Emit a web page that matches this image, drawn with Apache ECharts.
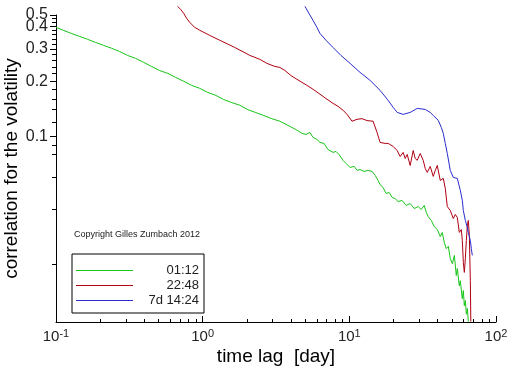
<!DOCTYPE html>
<html>
<head>
<meta charset="utf-8">
<script src="https://cdn.jsdelivr.net/npm/echarts@6/dist/echarts.min.js"></script>
<style>html,body{margin:0;padding:0;background:#fff}#main{width:512px;height:366px}</style>
</head>
<body>
<div id="main"></div>
<script>
var seriesNames = ['01:12', '22:48', '7d 14:24'];

// time lag [day] / correlation
var greenLag = [0.1, 0.112, 0.127, 0.144, 0.164, 0.186, 0.211, 0.239, 0.271, 0.307, 0.348, 0.395, 0.448, 0.508, 0.577, 0.654, 0.742, 0.841, 0.954, 1.08, 1.23, 1.39, 1.58, 1.79, 2.03, 2.30, 2.61, 2.96, 3.36, 3.81, 4.32, 4.75, 5.06, 5.39, 5.65, 6.01, 6.31, 6.72, 7.15, 7.74, 8.11, 8.50, 9.06, 9.50, 10.1, 10.8, 11.3, 11.8, 12.6, 13.4, 14.3, 15.0, 15.7, 16.2, 17.0, 17.8, 18.7, 19.6, 20.5, 21.5, 22.9, 24.4, 26.0, 27.7, 29.5, 30.9, 32.4, 33.5, 34.5, 36.2, 37.9, 39.8, 41.7, 43.0, 44.4, 45.8, 47.3, 48.8, 50.4, 52.0, 53.6, 54.5, 56.2, 57.1, 58.9, 59.9, 60.8, 61.8, 62.8, 63.8, 64.8];
var greenCorr = [0.394, 0.380, 0.365, 0.352, 0.339, 0.326, 0.314, 0.303, 0.291, 0.277, 0.267, 0.254, 0.241, 0.229, 0.221, 0.210, 0.200, 0.190, 0.183, 0.174, 0.1675, 0.159, 0.153, 0.148, 0.140, 0.135, 0.130, 0.125, 0.121, 0.115, 0.109, 0.104, 0.1025, 0.105, 0.0988, 0.0963, 0.0927, 0.0916, 0.0849, 0.0818, 0.0828, 0.0797, 0.0740, 0.0712, 0.0677, 0.0686, 0.0652, 0.0660, 0.0644, 0.0652, 0.0644, 0.0612, 0.0575, 0.0546, 0.0526, 0.0488, 0.0494, 0.0464, 0.0458, 0.0441, 0.0447, 0.0420, 0.0430, 0.0404, 0.0414, 0.0399, 0.0420, 0.0384, 0.0365, 0.0348, 0.0322, 0.0310, 0.0284, 0.0299, 0.0264, 0.0244, 0.0251, 0.0215, 0.0202, 0.0224, 0.0174, 0.0190, 0.0153, 0.0163, 0.0130, 0.0144, 0.0119, 0.0127, 0.0107, 0.0115, 0.00975];

var redLag = [0.675, 0.707, 0.742, 0.777, 0.815, 0.882, 0.954, 1.117, 1.307, 1.655, 2.095, 2.453, 2.738, 3.105, 3.360, 3.636, 3.996, 4.391, 5.139, 5.648, 6.305, 6.928, 7.737, 8.372, 9.057, 9.645, 10.43, 11.29, 12.21, 13.21, 14.52, 15.46, 16.21, 17.54, 18.39, 19.89, 21.18, 22.21, 23.28, 24.03, 24.80, 26.00, 27.25, 28.13, 29.03, 30.43, 31.90, 32.92, 33.97, 35.61, 37.33, 38.53, 39.77, 41.69, 43.71, 45.11, 46.56, 48.79, 51.15, 52.78, 54.47, 56.22, 58.01, 58.94, 59.88, 60.83, 61.79, 62.77, 63.76, 64.76, 65.79, 66.83, 67.35];
var redCorr = [0.513, 0.494, 0.470, 0.4415, 0.420, 0.394, 0.380, 0.356, 0.335, 0.306, 0.277, 0.2635, 0.2506, 0.241, 0.238, 0.229, 0.215, 0.205, 0.190, 0.181, 0.170, 0.161, 0.1515, 0.146, 0.139, 0.132, 0.121, 0.124, 0.125, 0.122, 0.121, 0.105, 0.0927, 0.0916, 0.0916, 0.0882, 0.0838, 0.0777, 0.0818, 0.0758, 0.0797, 0.0694, 0.0838, 0.0758, 0.0740, 0.0807, 0.0740, 0.0669, 0.0636, 0.0686, 0.0605, 0.0652, 0.0694, 0.0575, 0.0590, 0.0520, 0.0414, 0.0394, 0.0356, 0.0375, 0.0361, 0.0299, 0.0310, 0.0270, 0.0205, 0.0181, 0.0215, 0.0270, 0.0326, 0.0348, 0.0288, 0.0163, 0.00975];

var blueLag = [4.98, 5.30, 5.65, 6.01, 6.31, 6.93, 7.74, 8.76, 10.11, 11.83, 13.85, 16.21, 18.39, 19.89, 21.18, 23.28, 26.00, 29.03, 32.92, 35.61, 37.33, 40.40, 42.36, 43.71, 45.11, 46.56, 48.79, 51.15, 54.47, 57.11, 58.94, 59.88, 61.79, 63.76, 64.76, 66.83, 67.88, 68.96];
var blueCorr = [0.513, 0.470, 0.4305, 0.394, 0.365, 0.335, 0.306, 0.277, 0.2506, 0.2237, 0.2023, 0.1784, 0.1573, 0.1441, 0.1352, 0.1319, 0.1352, 0.1422, 0.1404, 0.1352, 0.1302, 0.1223, 0.1120, 0.1038, 0.0916, 0.0807, 0.0652, 0.0597, 0.0590, 0.0507, 0.0447, 0.0394, 0.0348, 0.0318, 0.0299, 0.0270, 0.0244, 0.0224];

var xMinorTicks = [0.2, 0.3, 0.4, 0.5, 0.6, 0.7, 0.8, 0.9, 2, 3, 4, 5, 6, 7, 8, 9, 20, 30, 40, 50, 60, 70, 80, 90];
var yTopLabel = [0.46];
var yLabelTicks = [0.4, 0.3, 0.2, 0.1];
var yMinorTicks = [0.44, 0.42, 0.38, 0.36, 0.34, 0.32, 0.28, 0.26, 0.24, 0.22, 0.18, 0.16, 0.14, 0.12, 0.09, 0.08, 0.06, 0.04, 0.02];
var yMin = 0.0097, yMax = 0.4601;

function pairs(xs, ys) {
	var out = [];
	for (var i = 0; i < xs.length; i++) out.push([xs[i], ys[i]]);
	return out;
}

var font = 'Liberation Sans, Arial, sans-serif';
var myChart = echarts.init(document.getElementById('main'));

var yLabelStyle = {
	margin: 8, hideOverlap: false,
	fontSize: 16, fontFamily: font, color: '#222',
	formatter: function (v) { return (Math.round(v * 10) / 10).toFixed(1); }
};

var option = {
	animation: false,
	backgroundColor: '#fff',
	grid: { left: 56, right: 16, top: 15, bottom: 44, containLabel: false, outerBoundsMode: 'none' },
	legend: {
		orient: 'vertical',
		left: 72, top: 254,
		padding: [10, 5, 6, 4],
		itemGap: 2,
		itemWidth: 57, itemHeight: 1,
		icon: 'rect',
		borderColor: '#000', borderWidth: 1,
		data: seriesNames,
		formatter: function (name) { return '{r|' + name + '}'; },
		textStyle: {
			rich: { r: { width: 61, align: 'right', fontSize: 13, lineHeight: 14, fontFamily: font, color: '#222' } }
		}
	},
	graphic: [{
		type: 'text', left: 74, top: 230,
		style: { text: 'Copyright Gilles Zumbach 2012', fontSize: 9, fontFamily: font, fill: '#222' }
	}],
	xAxis: [{
		type: 'log', logBase: 10, min: 0.1, max: 100,
		name: 'time lag  [day]', nameLocation: 'middle', nameGap: 25, nameMoveOverlap: false,
		nameTextStyle: { fontSize: 19, fontFamily: font, color: '#000' },
		axisLine: { lineStyle: { color: '#000', width: 1 } },
		axisTick: { inside: true, length: 6, lineStyle: { color: '#000' } },
		axisLabel: {
			margin: 6, color: '#222', fontFamily: font, hideOverlap: false,
			formatter: function (v) {
				return '{b|10}{s|' + Math.round(Math.log(v) / Math.LN10) + '}';
			},
			rich: {
				b: { fontSize: 15, fontFamily: font, color: '#222', lineHeight: 18 },
				s: { fontSize: 11, fontFamily: font, color: '#222', verticalAlign: 'top', lineHeight: 18 }
			}
		},
		splitLine: { show: false }
	}, {
		type: 'log', logBase: 10, min: 0.1, max: 100, position: 'bottom',
		axisLine: { show: false },
		axisTick: { inside: true, length: 3, customValues: xMinorTicks, lineStyle: { color: '#000' } },
		axisLabel: { show: false },
		splitLine: { show: false }
	}],
	yAxis: [{
		type: 'log', logBase: 10, min: yMin, max: yMax,
		name: 'correlation for the volatility', nameLocation: 'middle', nameGap: 35, nameMoveOverlap: false,
		nameTextStyle: { fontSize: 19, fontFamily: font, color: '#000' },
		axisLine: { show: true, lineStyle: { color: '#000', width: 1 } },
		axisTick: { length: 6, customValues: yTopLabel.concat(yLabelTicks), lineStyle: { color: '#000' } },
		axisLabel: echarts.util.extend({ customValues: yLabelTicks }, yLabelStyle),
		splitLine: { show: false }
	}, {
		type: 'log', logBase: 10, min: yMin, max: yMax, position: 'left',
		axisLine: { show: false },
		axisTick: { length: 4, customValues: yMinorTicks, lineStyle: { color: '#000' } },
		axisLabel: { show: false },
		splitLine: { show: false }
	}, {
		type: 'log', logBase: 10, min: yMin, max: yMax, position: 'left',
		axisLine: { show: false },
		axisTick: { show: false },
		axisLabel: echarts.util.extend({ customValues: yTopLabel }, yLabelStyle),
		splitLine: { show: false }
	}],
	series: [{
		name: seriesNames[0], type: 'line', symbol: 'none', clip: false,
		color: '#18c418', lineStyle: { width: 1 },
		data: pairs(greenLag, greenCorr)
	}, {
		name: seriesNames[1], type: 'line', symbol: 'none', clip: false,
		color: '#b00012', lineStyle: { width: 1 },
		data: pairs(redLag, redCorr)
	}, {
		name: seriesNames[2], type: 'line', symbol: 'none', clip: false,
		color: '#2b2bd0', lineStyle: { width: 1 },
		data: pairs(blueLag, blueCorr)
	}]
};
myChart.setOption(option);
</script>
</body>
</html>
